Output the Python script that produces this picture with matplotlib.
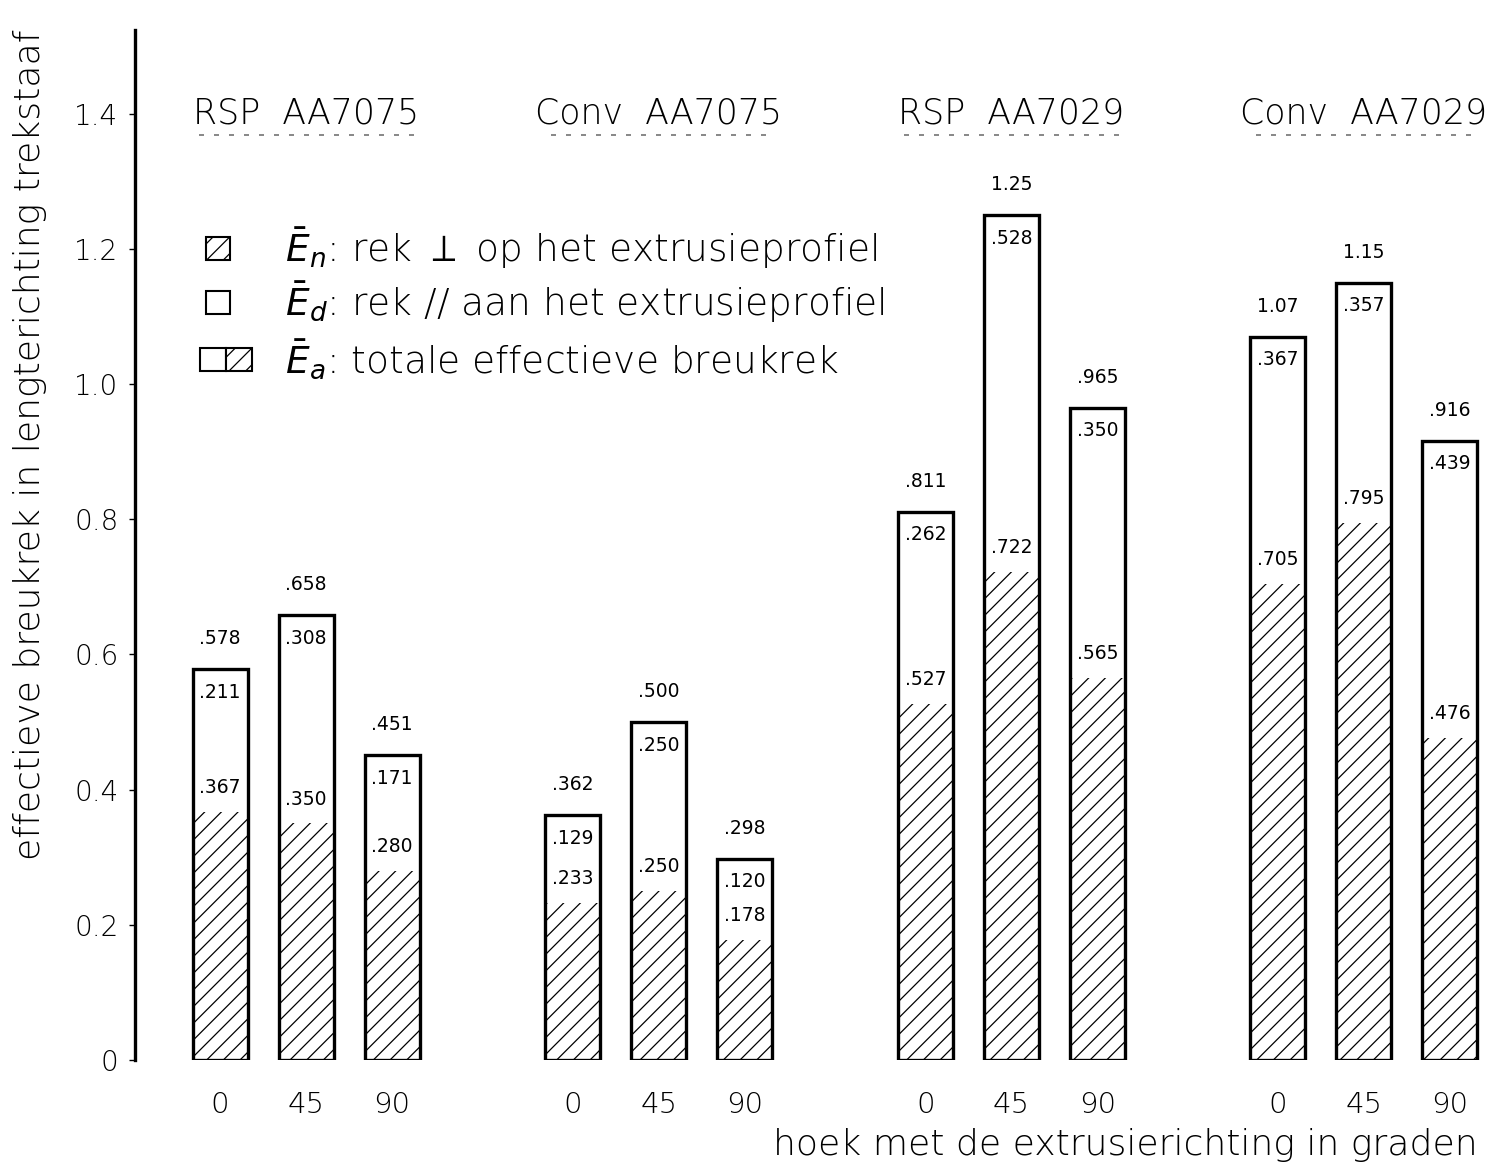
import matplotlib
matplotlib.use("Agg")
import matplotlib.pyplot as plt
from matplotlib.patches import Rectangle
import numpy as np

groups = ["RSP  AA7075", "Conv  AA7075", "RSP  AA7029", "Conv  AA7029"]
angles = ["0", "45", "90"]
total = [[0.578, 0.658, 0.451],
         [0.362, 0.500, 0.298],
         [0.811, 1.25, 0.965],
         [1.07, 1.15, 0.916]]
e_n = [[0.367, 0.350, 0.280],
       [0.233, 0.250, 0.178],
       [0.527, 0.722, 0.565],
       [0.705, 0.795, 0.476]]
e_d = [[0.211, 0.308, 0.171],
       [0.129, 0.250, 0.120],
       [0.262, 0.528, 0.350],
       [0.367, 0.357, 0.439]]
yticks = [0, 0.2, 0.4, 0.6, 0.8, 1.0, 1.2, 1.4]
ytick_labels = ["0", "0.2", "0.4", "0.6", "0.8", "1.0", "1.2", "1.4"]

plt.rcParams['font.family'] = ['DejaVu Sans']
plt.rcParams['hatch.linewidth'] = 0.9

fig = plt.figure(figsize=(14.86, 11.67), dpi=100)
ax = fig.add_axes([135/1486, 107/1167, 1 - 135/1486, 1030/1167])
ax.set_ylim(0, 1.524)

G = 4.1
W = 0.64
xpos = []
for g in range(len(groups)):
    for i in range(len(angles)):
        xpos.append(g * G + i)
ax.set_xlim(-0.99, 14.72)

def fmt(v):
    return f"{v:.2f}" if v >= 1 else f"{v:.3f}".lstrip("0")

k = 0
for g in range(len(groups)):
    for i in range(len(angles)):
        x = xpos[k]
        ax.bar(x, e_n[g][i], width=W, color="white", edgecolor="black",
               linewidth=0, hatch="//")
        ax.bar(x, total[g][i], width=W, fill=False, edgecolor="black",
               linewidth=2.4)
        ax.text(x, total[g][i] + 0.045, fmt(total[g][i]), ha="center", va="center", fontsize=13.5)
        ax.text(x, total[g][i] - 0.034, fmt(e_d[g][i]), ha="center", va="center", fontsize=13.5)
        ax.text(x, e_n[g][i] + 0.036, fmt(e_n[g][i]), ha="center", va="center", fontsize=13.5)
        k += 1
    gx = g * G + 1
    ax.text(gx, 1.40, groups[g], ha="center", va="center", fontsize=25, fontweight="light")
    ax.plot([gx - 1.25, gx + 1.25], [1.368, 1.368], color="0.45", lw=1.2,
            linestyle=(0, (3, 6)))

ax.set_xticks(xpos)
ax.set_xticklabels(angles * len(groups), fontsize=21, fontweight="light")
ax.tick_params(axis="x", length=0, pad=22)
ax.set_yticks(yticks)
ax.set_yticklabels(ytick_labels, fontsize=20, fontweight="light")
ax.tick_params(axis="y", length=4, width=1, pad=8)

for s in ["top", "right", "bottom"]:
    ax.spines[s].set_visible(False)
ax.spines["left"].set_linewidth(2.4)

fig.text(1478/1486, 1 - 1145/1167, "hoek met de extrusierichting in graden",
         ha="right", va="center", fontsize=26, fontweight="light")
fig.text(30/1486, 1 - 445/1167, "effectieve breukrek in lengterichting trekstaaf",
         rotation=90, ha="center", va="center", fontsize=26, fontweight="light")

leg_items = [
    (r"$\bar{E}_n$: rek $\perp$ op het extrusieprofiel", 1.201, "n"),
    (r"$\bar{E}_d$: rek // aan het extrusieprofiel", 1.121, "d"),
    (r"$\bar{E}_a$: totale effectieve breukrek", 1.036, "a"),
]
for label, yy, kind in leg_items:
    if kind == "n":
        ax.add_patch(Rectangle((-0.17, yy - 0.017), 0.28, 0.034, facecolor="white",
                               edgecolor="black", hatch="//", linewidth=1.5))
    elif kind == "d":
        ax.add_patch(Rectangle((-0.17, yy - 0.017), 0.28, 0.034, fill=False,
                               edgecolor="black", linewidth=1.5))
    else:
        ax.add_patch(Rectangle((-0.23, yy - 0.017), 0.3, 0.034, fill=False,
                               edgecolor="black", linewidth=1.5))
        ax.add_patch(Rectangle((0.07, yy - 0.017), 0.3, 0.034, facecolor="white",
                               edgecolor="black", hatch="//", linewidth=1.5))
    ax.text(0.75, yy, label, ha="left", va="center", fontsize=27, fontweight="light")

fig.savefig("out.png", dpi=100)
